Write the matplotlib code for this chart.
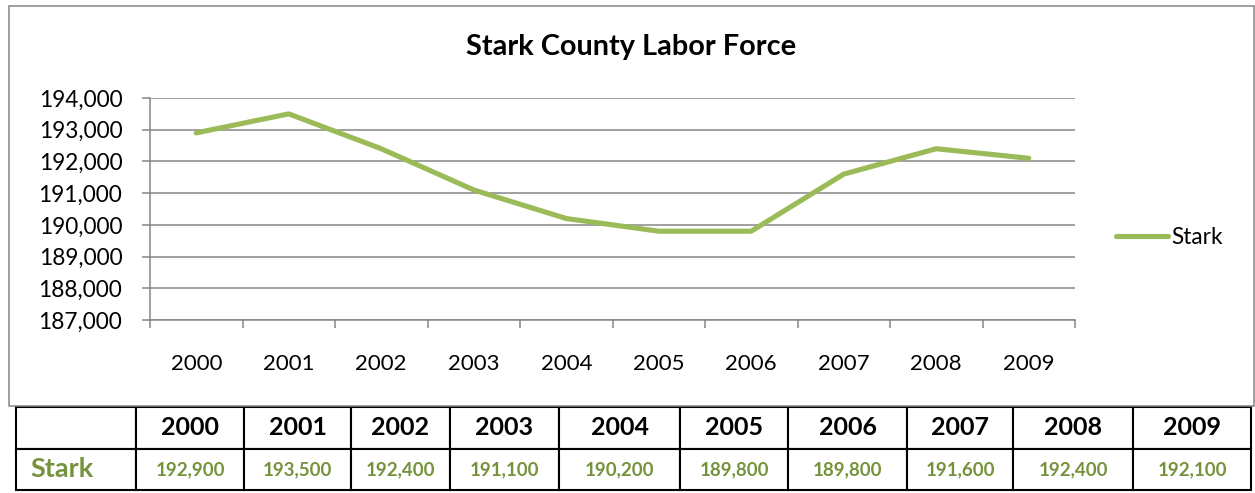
import matplotlib
matplotlib.use("Agg")
import matplotlib.pyplot as plt
from matplotlib.patches import Rectangle
from matplotlib.ticker import FuncFormatter

# Labor force figures for Stark County
years = ["2000", "2001", "2002", "2003", "2004", "2005", "2006", "2007", "2008", "2009"]
stark = [192900, 193500, 192400, 191100, 190200, 189800, 189800, 191600, 192400, 192100]
series_name = "Stark"
title = "Stark County Labor Force"
y_ticks = [187000, 188000, 189000, 190000, 191000, 192000, 193000, 194000]

W, H = 1255, 493
DPI = 100
plt.rcParams["font.family"] = ["Lato", "DejaVu Sans"]

GRID = "#868686"
LINE = "#9BBB59"
GREEN_TXT = "#76923C"

fig = plt.figure(figsize=(W / DPI, H / DPI), dpi=DPI)
fig.patch.set_facecolor("white")


def box(x0, y0, x1, y1):
    """Pixel box (top-left origin) -> figure fraction [left, bottom, width, height]."""
    return [x0 / W, 1 - y1 / H, (x1 - x0) / W, (y1 - y0) / H]


# Chart frame
frame = Rectangle((8.5 / W, 1 - 405.5 / H), (1254 - 8.5) / W, (405.5 - 5.5) / H,
                  transform=fig.transFigure, fill=False, edgecolor=GRID, linewidth=1.1)
fig.patches.append(frame)

# Line chart
ax = fig.add_axes(box(150, 98, 1075, 320))
x = list(range(len(years)))
ax.plot(x, stark, color=LINE, linewidth=3.7, solid_capstyle="round",
        solid_joinstyle="round", label=series_name, zorder=3)

ax.set_xlim(-0.5, len(years) - 0.5)
ax.set_ylim(y_ticks[0], y_ticks[-1])
ax.set_yticks(y_ticks)
ax.yaxis.set_major_formatter(FuncFormatter(lambda v, p: f"{int(v):,}"))
ax.grid(axis="y", color=GRID, linewidth=1.1)
ax.set_axisbelow(True)

ax.set_xticks([i - 0.5 for i in range(len(years) + 1)])
ax.set_xticklabels([])
ax.set_xticks(x, years, minor=True)
ax.tick_params(axis="x", which="major", direction="out", length=6, width=1.1, color=GRID)
ax.tick_params(axis="x", which="minor", length=0, pad=24.5, labelsize=16)
ax.tick_params(axis="y", direction="out", length=6, width=1.1, color=GRID, pad=14, labelsize=16.3)

for side in ("top", "right"):
    ax.spines[side].set_visible(False)
for side in ("left", "bottom"):
    ax.spines[side].set_color(GRID)
    ax.spines[side].set_linewidth(1.1)

fig.text(631 / W, 1 - 47 / H, title, ha="center", va="center",
         fontsize=20.8, fontweight="bold", color="black")

fig.legend(loc="center left", bbox_to_anchor=(1105 / W, 1 - 237 / H), frameon=False,
           fontsize=16.3, handlelength=2.3, handletextpad=0.15, borderpad=0)

# Data table under the chart
tax = fig.add_axes(box(16, 407, 1251, 490))
tax.axis("off")
edges = [16, 136, 244, 351, 450, 559, 680, 788, 907, 1013, 1133, 1251]
widths = [(b - a) for a, b in zip(edges[:-1], edges[1:])]
cells = [[""] + years, [series_name] + [f"{v:,}" for v in stark]]
tbl = tax.table(cellText=cells, colWidths=[w / sum(widths) for w in widths],
                bbox=[0, 0, 1, 1], cellLoc="center")
tbl.auto_set_font_size(False)
for (r, c), cell in tbl.get_celld().items():
    cell.set_edgecolor("black")
    cell.set_linewidth(1.5)
    t = cell.get_text()
    t.set_fontweight("bold")
    if r == 0:
        t.set_fontsize(18)
        t.set_color("black")
    elif c == 0:
        t.set_fontsize(19.5)
        t.set_color(GREEN_TXT)
        t.set_ha("left")
        cell.PAD = 0.12
    else:
        t.set_fontsize(13.5)
        t.set_color(GREEN_TXT)

fig.savefig("out.png", dpi=DPI)
